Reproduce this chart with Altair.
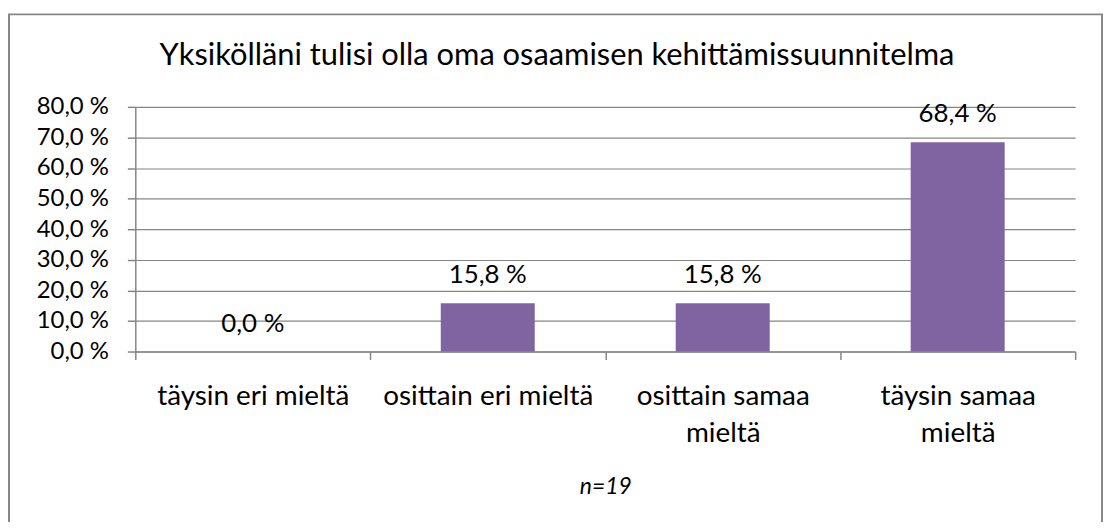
import altair as alt
import pandas as pd

categories = ["täysin eri mieltä", "osittain eri mieltä", "osittain samaa mieltä", "täysin samaa mieltä"]
values = [0.0, 15.8, 15.8, 68.4]
y_ticks = [0, 10, 20, 30, 40, 50, 60, 70, 80]
label_lines = {
    "osittain samaa mieltä": ["osittain samaa", "mieltä"],
    "täysin samaa mieltä": ["täysin samaa", "mieltä"],
}
title_text = "Yksikölläni tulisi olla oma osaamisen kehittämissuunnitelma"
note_text = "n=19"

FONT = "Lato"
GRAY = "#868686"
PURPLE = "#8064A2"

df = pd.DataFrame({"cat": categories, "val": values})

expr = "datum.label"
for k, lines in reversed(list(label_lines.items())):
    arr = "[" + ", ".join("'" + s + "'" for s in lines) + "]"
    expr = f"datum.label == '{k}' ? {arr} : ({expr})"

x_enc = alt.X(
    "cat:N",
    sort=categories,
    scale=alt.Scale(paddingInner=0, paddingOuter=0),
    axis=alt.Axis(
        title=note_text,
        titleFont=FONT,
        titleFontSize=23,
        titleFontStyle="italic",
        titleFontWeight="normal",
        titleColor="#000000",
        titleY=136,
        titleBaseline="middle",
        labelExpr=expr,
        labelAngle=0,
        labelFont=FONT,
        labelFontSize=28,
        labelColor="#000000",
        labelLineHeight=37,
        labelPadding=23,
        labelLimit=0,
        tickBand="extent",
        tickSize=8,
        tickColor=GRAY,
        tickWidth=1.5,
        domainColor=GRAY,
        domainWidth=1.5,
        grid=False,
    ),
)
y_enc = alt.Y(
    "val:Q",
    scale=alt.Scale(domain=[0, 80], nice=False),
    axis=alt.Axis(
        title=None,
        values=y_ticks,
        labelExpr="replace(format(datum.value, '.1f'), '.', ',') + ' %'",
        labelFont=FONT,
        labelFontSize=24,
        labelColor="#000000",
        labelPadding=19,
        tickSize=8,
        tickColor=GRAY,
        tickWidth=1.5,
        domainColor=GRAY,
        domainWidth=1.5,
        gridColor=GRAY,
        gridWidth=1.2,
    ),
)

base = alt.Chart(df).encode(x=x_enc, y=y_enc)

bars = base.mark_bar(color=PURPLE, width=alt.RelativeBandSize(0.4))
texts = base.transform_calculate(
    lbl="replace(format(datum.val, '.1f'), '.', ',') + ' %'"
).mark_text(font=FONT, fontSize=26, color="#000000", baseline="bottom", dy=-15).encode(text="lbl:N")

border = alt.Chart(alt.Data(values=[{}])).mark_rect(
    fill=None, stroke="#878787", strokeWidth=2
).encode(
    x=alt.value(-127), x2=alt.value(972), y=alt.value(-93), y2=alt.value(460)
)

title = alt.Chart(alt.Data(values=[{"t": title_text}])).mark_text(
    font=FONT, fontSize=31, color="#000000", baseline="middle", align="center"
).encode(x=alt.value(424), y=alt.value(-51), text="t:N")

chart = alt.layer(border, title, bars, texts).properties(
    width=945,
    height=246,
    padding={"left": 128, "top": 98, "right": 30, "bottom": 170},
    autosize=alt.AutoSizeParams(type="none"),
).configure_view(stroke=None)

chart.save("out.html", embed_options={"renderer": "svg", "actions": False})
